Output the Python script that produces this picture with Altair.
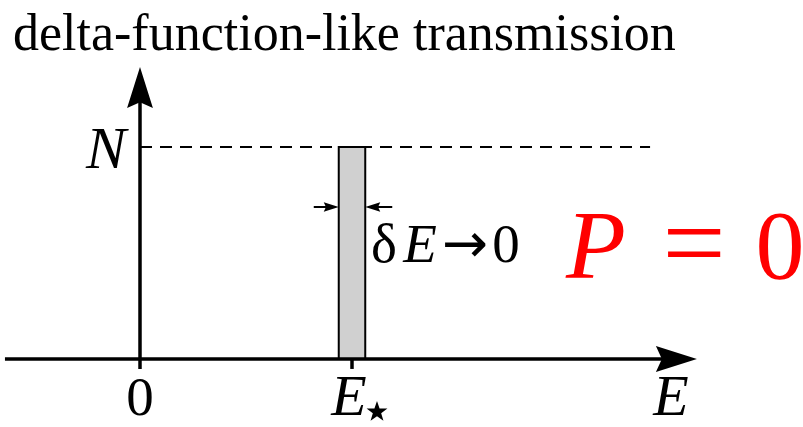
import altair as alt
import pandas as pd

# ---- values (energy in units of E*, transmission in units of N) ----
E_ZERO = 0.0
E_STAR = 1.0
DELTA_E = 0.125          # width of the transmission window
N_LEVEL = 1.0            # transmission height

# axis extents
x_axis_start, x_axis_tip = -0.637, 2.627
y_axis_bottom, y_axis_tip = -0.047, 1.377
dash_end = 2.406
width_arrow_y = 0.717    # height of the small width arrows

# ---- layout ----
W, H = 803, 427
X_DOMAIN = [-0.6604, 3.1274]
Y_DOMAIN = [-0.3208, 1.6934]
PX = W / (X_DOMAIN[1] - X_DOMAIN[0])   # pixels per unit

SERIF = "Liberation Serif"
ARROW = "M0,-1 L0.63,1 L0,0.71 L-0.63,1 Z"   # notched arrowhead pointing up
STAR = ("M0,-1 L0.235,-0.324 L0.951,-0.309 L0.380,0.124 L0.588,0.809 "
        "L0,0.4 L-0.588,0.809 L-0.380,0.124 L-0.951,-0.309 L-0.235,-0.324 Z")

xs = alt.Scale(domain=X_DOMAIN, nice=False, zero=False)
ys = alt.Scale(domain=Y_DOMAIN, nice=False, zero=False)


def X(field="x"):
    return alt.X(f"{field}:Q", scale=xs, axis=None)


def Y(field="y"):
    return alt.Y(f"{field}:Q", scale=ys, axis=None)


one = pd.DataFrame({"k": [0]})

# ---- axes ----
head_len_big = 41
head_len_small = 15

x_shaft = pd.DataFrame({"x": [x_axis_start], "x2": [x_axis_tip - 32 / PX], "y": [0.0]})
x_axis = alt.Chart(x_shaft).mark_rule(color="black", strokeWidth=3.5).encode(
    x=X(), x2="x2:Q", y=Y())

y_shaft = pd.DataFrame({"x": [E_ZERO], "y": [y_axis_bottom], "y2": [y_axis_tip - 33 / PX]})
y_axis = alt.Chart(y_shaft).mark_rule(color="black", strokeWidth=3.5).encode(
    x=X(), y=Y(), y2="y2:Q")

tick_df = pd.DataFrame({"x": [E_STAR], "y": [y_axis_bottom], "y2": [0.0]})
ticks = alt.Chart(tick_df).mark_rule(color="black", strokeWidth=3.5).encode(
    x=X(), y=Y(), y2="y2:Q")

heads_df = pd.DataFrame({
    "x": [E_ZERO, x_axis_tip - head_len_big / 2 / PX],
    "y": [y_axis_tip - head_len_big / 2 / PX, 0.0],
    "angle": [0, 90],
})
axis_heads = alt.Chart(heads_df).mark_point(
    shape=ARROW, filled=True, color="black", opacity=1, size=head_len_big ** 2, strokeWidth=0
).encode(x=X(), y=Y(), angle=alt.Angle("angle:Q", scale=None))

# ---- dashed level N ----
dash_df = pd.DataFrame({"x": [E_ZERO], "x2": [dash_end], "y": [N_LEVEL]})
dashed = alt.Chart(dash_df).mark_rule(color="black", strokeWidth=2, strokeDash=[12, 8]).encode(
    x=X(), x2="x2:Q", y=Y())

# ---- transmission window ----
bar_df = pd.DataFrame({"x": [E_STAR - DELTA_E / 2], "x2": [E_STAR + DELTA_E / 2],
                       "y": [0.0], "y2": [N_LEVEL]})
bar = alt.Chart(bar_df).mark_rect(fill="#d0d0d0", stroke="black", strokeWidth=2).encode(
    x=X(), x2="x2:Q", y=Y(), y2="y2:Q")

# ---- width arrows ----
left_tip = E_STAR - DELTA_E / 2
right_tip = E_STAR + DELTA_E / 2
w_shafts_df = pd.DataFrame({
    "x": [left_tip - 25 / PX, right_tip + 5 / PX],
    "x2": [left_tip - 5 / PX, right_tip + 27 / PX],
    "y": [width_arrow_y, width_arrow_y],
})
w_shafts = alt.Chart(w_shafts_df).mark_rule(color="black", strokeWidth=2).encode(
    x=X(), x2="x2:Q", y=Y())
w_heads_df = pd.DataFrame({
    "x": [left_tip - head_len_small / 2 / PX, right_tip + head_len_small / 2 / PX],
    "y": [width_arrow_y, width_arrow_y],
    "angle": [90, 270],
})
w_heads = alt.Chart(w_heads_df).mark_point(
    shape=ARROW, filled=True, color="black", opacity=1, size=head_len_small ** 2, strokeWidth=0
).encode(x=X(), y=Y(), angle=alt.Angle("angle:Q", scale=None))

# ---- labels ----
zero_lbl = alt.Chart(pd.DataFrame({"x": [E_ZERO], "y": [0.0], "t": ["0"]})).mark_text(
    font=SERIF, fontSize=55, align="center", baseline="alphabetic", dy=56, color="black"
).encode(x=X(), y=Y(), text="t:N")

estar_lbl = alt.Chart(pd.DataFrame({"x": [E_STAR], "y": [0.0], "t": ["E"]})).mark_text(
    font=SERIF, fontSize=58, fontStyle="italic", align="center", baseline="alphabetic",
    dx=-3, dy=56, color="black"
).encode(x=X(), y=Y(), text="t:N")

# subscript star of E*, placed just right of the label's baseline
star_df = pd.DataFrame({"x": [E_STAR + 25 / PX], "y": [0.0 - 53 / PX]})
star = alt.Chart(star_df).mark_point(
    shape=STAR, filled=True, color="black", opacity=1, size=480, strokeWidth=0
).encode(x=X(), y=Y())

n_lbl = alt.Chart(pd.DataFrame({"x": [E_ZERO], "y": [N_LEVEL], "t": ["N"]})).mark_text(
    font=SERIF, fontSize=60, fontStyle="italic", align="center", baseline="alphabetic",
    dx=-34, dy=21, color="black"
).encode(x=X(), y=Y(), text="t:N")

e_axis_lbl = alt.Chart(one).mark_text(
    font=SERIF, fontSize=58, fontStyle="italic", align="center", baseline="alphabetic",
    color="black", text="E"
).encode(x=alt.value(671), y=alt.value(415))

title = alt.Chart(one).mark_text(
    font=SERIF, fontSize=52, align="left", baseline="alphabetic", color="black",
    text="delta-function-like transmission"
).encode(x=alt.value(13), y=alt.value(50))

# δE→0 annotation
de_parts = [("δ", SERIF, "normal", 384, 55), ("E", SERIF, "italic", 420, 55),
            ("→", "DejaVu Sans", "normal", 465, 55), ("0", SERIF, "normal", 506, 55)]
de_layers = [
    alt.Chart(one).mark_text(
        font=fnt, fontSize=fs, fontStyle=style, align="center", baseline="alphabetic",
        color="black", text=txt
    ).encode(x=alt.value(px), y=alt.value(262))
    for txt, fnt, style, px, fs in de_parts
]

# P = 0 statement
p_parts = [("P", "italic", 596, 98, 278), ("=", "normal", 694, 112, 280),
           ("0", "normal", 780, 98, 278)]
p_layers = [
    alt.Chart(one).mark_text(
        font=SERIF, fontSize=fs, fontStyle=style, align="center", baseline="alphabetic",
        color="#ff0000", text=txt
    ).encode(x=alt.value(px), y=alt.value(base))
    for txt, style, px, fs, base in p_parts
]

chart = alt.layer(
    dashed, bar, x_axis, y_axis, ticks, axis_heads, w_shafts, w_heads,
    zero_lbl, estar_lbl, star, n_lbl, e_axis_lbl, title, *de_layers, *p_layers
).properties(
    width=W, height=H, padding=0, autosize=alt.AutoSizeParams(type="none"),
    background="white"
).configure_view(stroke=None)

chart.save("out.html", embed_options={"renderer": "svg", "actions": False})
